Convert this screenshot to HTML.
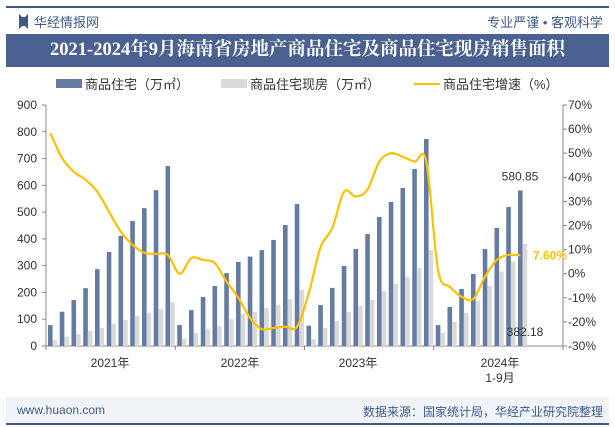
<!DOCTYPE html>
<html><head><meta charset="utf-8">
<style>
body{margin:0;width:615px;height:427px;background:#fff;font-family:"Liberation Sans","Noto Sans CJK SC",sans-serif;overflow:hidden;position:relative}
.abs{position:absolute}
</style></head><body>
<div class="abs" style="left:6px;top:6px;width:603px;height:2px;background:#3d5a8a"></div>
<div class="abs" style="left:19px;top:14px;width:9px;height:15px;background:#3d5a8a;clip-path:polygon(0 0,35% 20%,65% 20%,100% 0,100% 100%,65% 80%,35% 80%,0 100%)"></div>
<div class="abs" style="left:34px;top:12px;font-size:13px;color:#3d5a8a">华经情报网</div>
<div class="abs" style="right:12px;top:12px;font-size:13px;color:#3d5a8a">专业严谨 • 客观科学</div>
<div class="abs" style="left:6px;top:34px;width:603px;height:33px;background:#4a6191;color:#fff;font-family:'Liberation Serif','Noto Serif CJK SC',serif;font-weight:bold;font-size:18.5px;text-align:center;line-height:33px">2021-2024年9月海南省房地产商品住宅及商品住宅现房销售面积</div>
<div class="abs" style="left:6px;top:397px;width:603px;height:27px;background:#f0f3f8"></div>
<div class="abs" style="left:6px;top:423px;width:603px;height:2px;background:#3d5a8a"></div>
<div class="abs" style="left:17px;top:403px;font-size:12px;color:#3d5a8a">www.huaon.com</div>
<div class="abs" style="right:12px;top:403px;font-size:12px;color:#3d5a8a">数据来源：国家统计局，华经产业研究院整理</div>
<svg id="chart" class="abs" style="left:0;top:0" width="615" height="427"></svg>
<script>
const years=["2021年","2022年","2023年","2024年"];
const area=[78,128,172,216,287,351,411,467,515,582,672, 78,134,183,224,272,314,334,358,396,452,530, 76,153,217,299,362,418,482,538,590,661,773, 78,146,213,269,362,441,519,580.85];
const existing=[22,34,44,56,67,82,97,112,123,138,164, 27,49,63,75,101,119,127,142,153,175,209, 26,67,93,127,149,172,205,232,258,291,358, 50,90,124,169,224,278,315,382.18];
const growth=[58.3,48,42.3,39,34,25.7,17.4,12,8.7,8.2,7.8, 0,6.5,5.7,4.4,-3.3,-10,-18.4,-23,-22.5,-22,-22, -8,11,19,34,32,35,46.5,50,48.5,46.5,46.5, 1.5,-5.4,-9.5,-10.5,-1.2,5.7,7.8,7.6];
const leftTicks=[0,100,200,300,400,500,600,700,800,900];
const rightTicks=[-30,-20,-10,0,10,20,30,40,50,60,70];
const svg=document.getElementById('chart');const NS='http://www.w3.org/2000/svg';
const X0=46,X1=563,Y0=346,Y1=105,SLOTS=44,sw=(X1-X0)/SLOTS;
const yL=v=>Y0-(v/900)*(Y0-Y1);
const yR=v=>Y0-((v+30)/100)*(Y0-Y1);
function el(t,a,txt){const e=document.createElementNS(NS,t);for(const k in a)e.setAttribute(k,a[k]);if(txt!==undefined)e.textContent=txt;svg.appendChild(e);return e;}
let g;
g=el('rect',{x:56,y:79,width:26,height:9,fill:'#667ba1'});
g=el('text',{x:85,y:89,'font-size':13,fill:'#333'},'商品住宅（万㎡）');
g=el('rect',{x:221,y:79,width:26,height:9,fill:'#d9d9d9'});
g=el('text',{x:250,y:89,'font-size':13,fill:'#333'},'商品住宅现房（万㎡）');
g=el('line',{x1:414,y1:84,x2:440,y2:84,stroke:'#ffc000','stroke-width':2});
g=el('text',{x:443,y:89,'font-size':13,fill:'#333'},'商品住宅增速（%）');
g=el('line',{x1:X0,y1:Y1,x2:X0,y2:Y0,stroke:'#888'});
g=el('line',{x1:X1,y1:Y1,x2:X1,y2:Y0,stroke:'#888'});
g=el('line',{x1:X0,y1:Y0,x2:X1,y2:Y0,stroke:'#888'});
leftTicks.forEach(v=>{const y=yL(v);el('line',{x1:X0-4,y1:y,x2:X0,y2:y,stroke:'#888'});
 g=el('text',{x:37,y:y+4,'font-size':12,fill:'#333','text-anchor':'end'},v);});
rightTicks.forEach(v=>{const y=yR(v);el('line',{x1:X1,y1:y,x2:X1+4,y2:y,stroke:'#888'});
 g=el('text',{x:568,y:y+4,'font-size':12,fill:'#333'},v+'%');});
[0,11,22,33,44].forEach(s=>el('line',{x1:X0+s*sw,y1:Y0,x2:X0+s*sw,y2:Y0+4,stroke:'#888'}));
const yLabX=[110,240,358,500];
years.forEach((t,i)=>{g=el('text',{x:yLabX[i],y:367,'font-size':12,fill:'#333','text-anchor':'middle'},t);});
g=el('text',{x:500,y:382,'font-size':12,fill:'#333','text-anchor':'middle'},'1-9月');
area.forEach((v,i)=>{const x=X0+i*sw;
 g=el('rect',{x:x+2,y:yL(v),width:4.6,height:Y0-yL(v),fill:'#667ba1'});
 const e=existing[i];
 g=el('rect',{x:x+6.6,y:yL(e),width:4.6,height:Y0-yL(e),fill:'#d9d9d9'});});
const pts=growth.map((v,i)=>[X0+i*sw+4.3,yR(v)]);
let d='M'+pts[0][0]+','+pts[0][1];
for(let i=0;i<pts.length-1;i++){const p0=pts[Math.max(0,i-1)],p1=pts[i],p2=pts[i+1],p3=pts[Math.min(pts.length-1,i+2)];
 d+=` C${p1[0]+(p2[0]-p0[0])/6},${p1[1]+(p2[1]-p0[1])/6} ${p2[0]-(p3[0]-p1[0])/6},${p2[1]-(p3[1]-p1[1])/6} ${p2[0]},${p2[1]}`;}
g=el('path',{d:d,fill:'none',stroke:'#ffc000','stroke-width':2.2});
const li=area.length-1,lx=X0+li*sw;
g=el('text',{x:lx+4,y:yL(area[li])-10,'font-size':12,fill:'#333','text-anchor':'middle'},area[li]);
g=el('text',{x:lx+9,y:336,'font-size':12,fill:'#333','text-anchor':'middle'},existing[li]);
g=el('text',{x:533,y:yR(growth[li])+4,'font-size':12,'font-weight':'bold',fill:'#ffc000'},growth[li].toFixed(2)+'%');
</script>
</body></html>
